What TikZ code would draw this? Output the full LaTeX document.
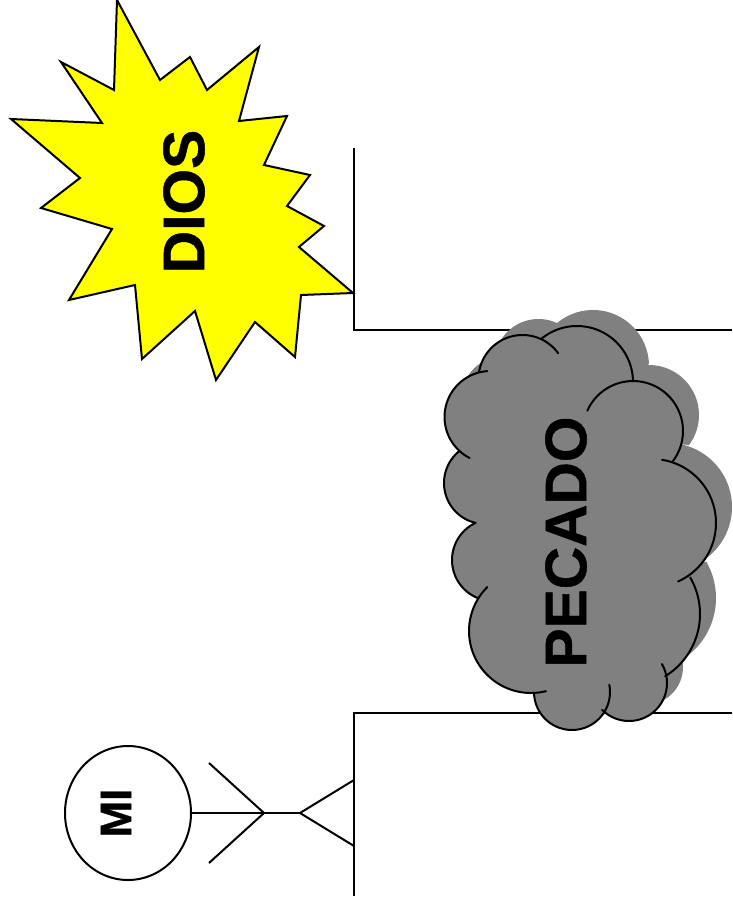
\documentclass[tikz,border=0pt]{standalone}
\usepackage{fontspec}
\usetikzlibrary{shapes.geometric}
\setmainfont[BoldFeatures={FakeBold=0.8}]{Liberation Sans}
\definecolor{sunyellow}{RGB}{255,255,0}
\definecolor{cloudgray}{RGB}{128,128,128}
% join, centre x, centre y, radius, start angle, end angle
\newcommand{\lobe}[6]{#1 plot[domain=#5:#6,samples=40] ({#2+#4*cos(\x)},{#3+#4*sin(\x)})}
\newcommand{\arcA}[1]{\lobe{#1}{522.5}{379}{44}{189}{324}}
\newcommand{\arcB}[1]{\lobe{#1}{577}{382}{56}{230}{358}}
\newcommand{\arcC}[1]{\lobe{#1}{633}{431}{50}{204}{397}}
\newcommand{\arcD}[1]{\lobe{#1}{652}{523}{64}{279}{426}}
\newcommand{\arcE}[1]{\lobe{#1}{627}{614}{73}{330}{418.5}}
\newcommand{\arcF}[1]{\lobe{#1}{629}{683}{38}{-30}{135}}
\newcommand{\arcG}[1]{\lobe{#1}{572}{692}{38}{-11}{178.5}}
\newcommand{\arcH}[1]{\lobe{#1}{531}{631}{62}{76}{225}}
\newcommand{\arcI}[1]{\lobe{#1}{493}{560}{41}{111.5}{245}}
\newcommand{\arcJ}[1]{\lobe{#1}{485}{483}{41}{104}{232}}
\newcommand{\arcK}[1]{\lobe{#1}{490.5}{417}{46}{117}{266}}
\newcommand{\cloudoutline}{\arcA{} \arcB{--} \arcC{--} \arcD{--} \arcE{--} \arcF{--} \arcG{--} \arcH{--} \arcI{--} \arcJ{--} \arcK{--} -- cycle}
\tikzset{
  wire/.style={draw=black,line width=1.5pt},
  lbl/.style={font=\bfseries\fontsize{44}{44}\selectfont,rotate=90,inner sep=0pt},
  cloudfill/.style={fill=cloudgray,draw=none},
  cloudline/.style={draw=black,line width=1.5pt,line cap=round}
}
\begin{document}
\begin{tikzpicture}[x=0.75pt,y=-0.75pt]
\useasboundingbox (0,0) rectangle (732,913);
% rails
\coordinate (ta) at (354,148);
\coordinate (tb) at (354,330);
\coordinate (tc) at (732,330);
\coordinate (ba) at (354,896);
\coordinate (bb) at (354,713);
\coordinate (bc) at (732,713);
\draw[wire,line join=miter] (ta) -- (tb) -- (tc);
\draw[wire,line join=miter] (ba) -- (bb) -- (bc);
% star
\draw[wire,fill=sunyellow,line join=miter] (117,0)--(160,80)--(190,57)--(207,90)--(259,47)--(239,121)--(287,116)--(264,165)--(310,175)--(287,206)--(324,226)--(299,247)--(353,293)--(301,295)--(295,357)--(255,322)--(216,380)--(195,311)--(142,359)--(135,285)--(69,300)--(112,229)--(41,208)--(80,178)--(11,119)--(102,123)--(61,62)--(114,90)--cycle;
\node[lbl] (dios) at (184,201.5) {DIOS};
% cloud
\begin{scope}[shift={(16,-16)}]
\path[cloudfill] \cloudoutline;
\end{scope}
\path[cloudfill] \cloudoutline;
\draw[cloudline] \arcA{};
\draw[cloudline] \arcB{};
\draw[cloudline] \arcC{};
\draw[cloudline] \arcD{};
\draw[cloudline] \arcE{};
\draw[cloudline] \arcF{};
\draw[cloudline] \arcG{};
\draw[cloudline] \arcH{};
\draw[cloudline] \arcI{};
\draw[cloudline] \arcJ{};
\draw[cloudline] \arcK{};
\node[lbl] (pecado) at (566,542) {PECADO};
% person
\node[draw=black,line width=1.5pt,ellipse,minimum width=126*0.75pt,minimum height=134*0.75pt,inner sep=0pt] (mi) at (128,813) {};
\node[font=\bfseries\fontsize{33}{33}\selectfont,rotate=90,inner sep=0pt] (milabel) at (116,813) {MI};
\coordinate (hip) at (300,813);
\coordinate (arm) at (264,813);
\coordinate (hand1) at (209,763);
\coordinate (hand2) at (209,863);
\coordinate (foot1) at (354,780);
\coordinate (foot2) at (354,846);
\draw[wire] (mi.east) -- (hip);
\draw[wire] (hand1) -- (arm) -- (hand2);
\draw[wire] (foot1) -- (hip) -- (foot2);
\end{tikzpicture}
\end{document}
